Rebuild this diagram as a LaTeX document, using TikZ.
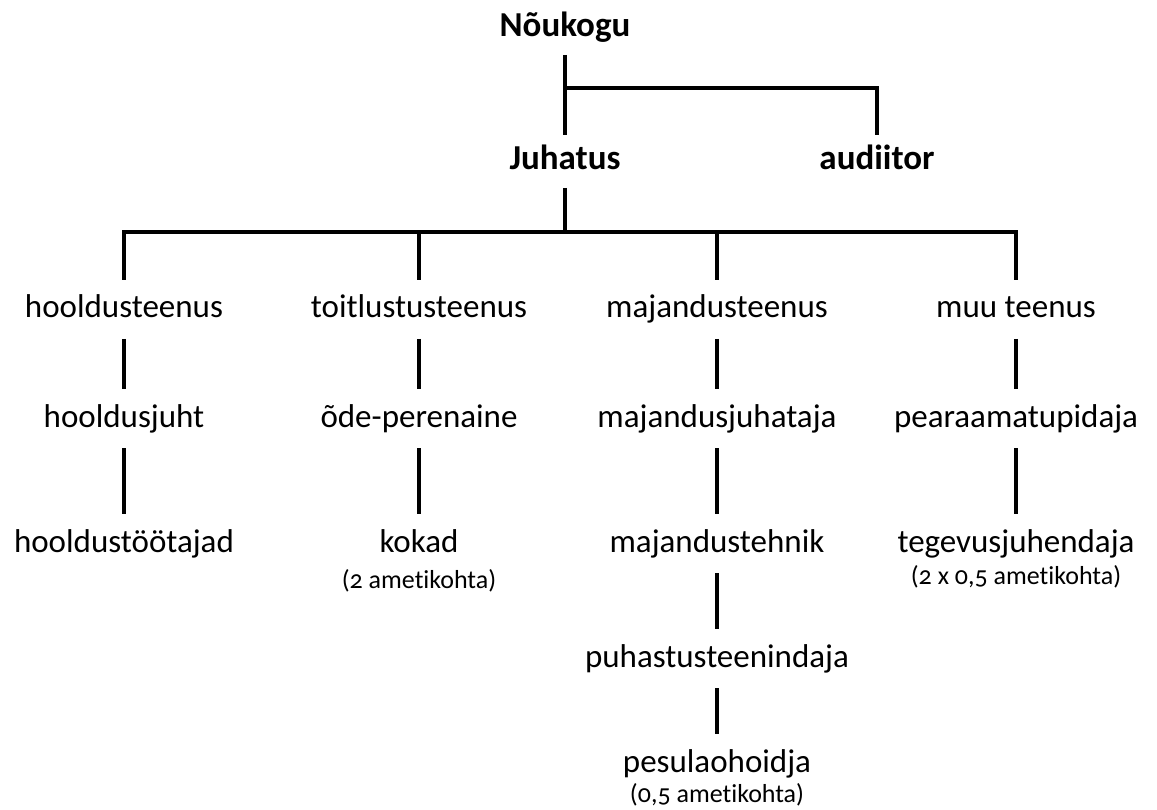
\documentclass[tikz,border=0pt]{standalone}
\usepackage{fontspec}
\setmainfont[Numbers=OldStyle,Ligatures=NoCommon]{Carlito}
\usetikzlibrary{positioning}
\begin{document}
\begin{tikzpicture}[x=1pt,y=-1pt,
    line width=4pt,
    unit/.style={inner sep=0pt,anchor=base,text height=36pt,text depth=19pt,font=\fontsize{33}{38}\selectfont},
    head/.style={unit,text height=33pt,text depth=16pt,font=\fontsize{35}{40}\selectfont\bfseries},
    note/.style={inner sep=0pt,anchor=base,font=\fontsize{26}{30}\selectfont}]
  \useasboundingbox (0,0) rectangle (1157,810);
  % top
  \node[head] (nou) at (565,37) {Nõukogu};
  \node[head] (juh) at (565,170) {Juhatus};
  \node[head] (aud) at (877,170) {audiitor};
  % services
  \node[unit] (hool) at (124,318) {hooldusteenus};
  \node[unit] (toit) at (419,318) {toitlustusteenus};
  \node[unit] (maj) at (717,318) {majandusteenus};
  \node[unit] (muu) at (1016,318) {muu teenus};
  % second row
  \node[unit] (hjuht) at (124,427) {hooldusjuht};
  \node[unit] (ode) at (419,427) {õde-perenaine};
  \node[unit] (mjuht) at (717,427) {majandusjuhataja};
  \node[unit] (pear) at (1016,427) {pearaamatupidaja};
  % third row
  \node[unit] (htoo) at (124,552) {hooldustöötajad};
  \node[unit] (kok) at (419,552) {kokad};
  \node[note] (koknote) at (419,588) {(2 ametikohta)};
  \node[unit] (mteh) at (717,552) {majandustehnik};
  \node[unit] (teg) at (1016,552) {tegevusjuhendaja};
  \node[note] (tegnote) at (1016,584) {(2 x 0,5 ametikohta)};
  % majandus chain
  \node[unit] (puh) at (717,667) {puhastusteenindaja};
  \node[unit] (pes) at (717,772) {pesulaohoidja};
  \node[note] (pesnote) at (717,802) {(0,5 ametikohta)};

  \coordinate (split) at (565,88);
  \coordinate (bus) at (565,232);
  \draw (nou) -- (juh);
  \draw (split) -| (aud);
  \draw (juh) -- (bus);
  \draw (hool) |- (bus) -| (muu);
  \foreach \n in {toit,maj} {
    \draw (\n |- bus) -- (\n);
  }
  \draw (hool) -- (hjuht) -- (htoo);
  \draw (toit) -- (ode) -- (kok);
  \draw (maj) -- (mjuht) -- (mteh) -- (puh) -- (pes);
  \draw (muu) -- (pear) -- (teg);
\end{tikzpicture}
\end{document}
